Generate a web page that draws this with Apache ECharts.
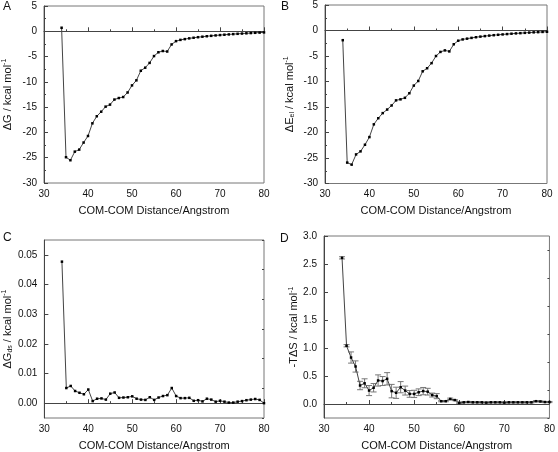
<!DOCTYPE html>
<html><head><meta charset="utf-8">
<script src="https://cdn.jsdelivr.net/npm/echarts@6/dist/echarts.min.js"></script>
<style>html,body{margin:0;padding:0;background:#fff}#c{width:558px;height:452px}</style>
</head><body><div id="c"></div>
<script>
const distance = [34,35,36,37,38,39,40,41,42,43,44,45,46,47,48,49,50,51,52,53,54,55,56,57,58,59,60,61,62,63,64,65,66,67,68,69,70,71,72,73,74,75,76,77,78,79,80];
const dG = [0.7,-24.9,-25.5,-23.8,-23.4,-22.0,-20.7,-18.2,-16.8,-15.9,-14.9,-14.5,-13.5,-13.2,-13.0,-12.1,-10.7,-9.7,-7.8,-7.2,-6.25,-4.9,-4.15,-3.9,-4.0,-2.6,-1.95,-1.7,-1.55,-1.4,-1.28,-1.17,-1.07,-0.98,-0.9,-0.82,-0.75,-0.68,-0.62,-0.56,-0.5,-0.45,-0.4,-0.35,-0.3,-0.26,-0.22];
const dEel = [-1.9,-25.9,-26.3,-24.3,-23.7,-22.4,-20.9,-18.4,-17.2,-16.2,-15.5,-14.7,-13.7,-13.5,-13.2,-12.3,-10.8,-9.9,-8.0,-7.4,-6.4,-5.0,-4.2,-3.9,-4.1,-2.7,-2.0,-1.75,-1.6,-1.45,-1.32,-1.2,-1.1,-1.0,-0.92,-0.84,-0.77,-0.7,-0.63,-0.57,-0.52,-0.46,-0.41,-0.36,-0.32,-0.28,-0.24];
const dGds = [0.0477,0.0051,0.0058,0.0041,0.0035,0.0030,0.0046,0.0007,0.0015,0.0016,0.0012,0.0032,0.0036,0.0018,0.0019,0.0020,0.0023,0.0015,0.0012,0.0011,0.0020,0.0011,0.0019,0.0024,0.0027,0.0051,0.0024,0.0017,0.0017,0.0018,0.0008,0.0010,0.0006,0.0015,0.0012,0.0005,0.0008,0.0005,0.0002,0.0002,0.0005,0.0007,0.0010,0.0012,0.0014,0.0011,0.0000];
const mTdS = [2.61,1.04,0.83,0.67,0.33,0.37,0.24,0.29,0.42,0.41,0.45,0.23,0.20,0.30,0.24,0.18,0.18,0.21,0.23,0.22,0.16,0.14,0.05,0.05,0.09,0.07,0.02,0.03,0.035,0.03,0.03,0.03,0.025,0.03,0.03,0.03,0.025,0.03,0.03,0.03,0.03,0.03,0.03,0.05,0.045,0.035,0.035];
const mTdSErr = [0.02,0.02,0.1,0.1,0.075,0.08,0.09,0.075,0.1,0.08,0.11,0.12,0.1,0.1,0.08,0.06,0.065,0.06,0.065,0.06,0.035,0.045,0.01,0.01,0.015,0.01,0.01,0.01,0.01,0.01,0.01,0.01,0.01,0.01,0.01,0.01,0.01,0.01,0.01,0.01,0.01,0.01,0.01,0.01,0.01,0.01,0.01];
const xTicks = [30,40,50,60,70,80];
const cLabels = [0,0.01,0.02,0.03,0.04,0.05];
const cMinor = [-0.005,0.005,0.015,0.025,0.035,0.045,0.055];
const dLabels = [0,0.5,1.0,1.5,2.0,2.5,3.0];
const dMinor = [-0.25,0.25,0.75,1.25,1.75,2.25,2.75];

const FONT = 'Liberation Sans, Arial, sans-serif';
const TXT = '#111';
const grids = [
  {left:44, top:6, width:220, height:177},
  {left:325, top:4.5, width:222, height:179},
  {left:44, top:240, width:220, height:178},
  {left:324, top:236, width:228, height:182}
].map(g => Object.assign({show:true, borderColor:'#777', borderWidth:1, backgroundColor:'transparent'}, g));

const axisLine = {show:true, lineStyle:{color:'#444', width:1}};
function xAxis(i){
  return {type:'value', gridIndex:i, min:30, max:80, interval:10,
    axisLine, axisTick:{inside:true, length:4, lineStyle:{color:'#444'}},
    minorTick:{show:true, splitNumber:2, length:2, lineStyle:{color:'#444'}},
    splitLine:{show:false},
    axisLabel:{color:TXT, fontSize:10, fontFamily:FONT, margin:6},
    name:'COM-COM Distance/Angstrom', nameLocation:'middle', nameGap:22,
    nameTextStyle:{color:TXT, fontSize:11, fontFamily:FONT}};
}
function richName(){
  return {color:TXT, fontFamily:FONT, fontSize:11,
    rich:{a:{fontSize:11, fontFamily:FONT, color:TXT, lineHeight:13},
          sup:{fontSize:7, fontFamily:FONT, color:TXT, verticalAlign:'top', lineHeight:13},
          sub:{fontSize:7, fontFamily:FONT, color:TXT, verticalAlign:'bottom', lineHeight:13}}};
}
const yBase = (i, extra) => Object.assign({type:'value', gridIndex:i, axisLine,
  axisTick:{inside:true, length:4, lineStyle:{color:'#444'}},
  splitLine:{show:false},
  axisLabel:{color:TXT, fontSize:10, fontFamily:FONT, margin:7},
  nameLocation:'middle', nameRotate:90, nameTextStyle:richName()}, extra);

const yAxes = [
  yBase(0, {min:-30, max:5, interval:5, minorTick:{show:true, splitNumber:2, length:2, lineStyle:{color:'#444'}},
    name:'{a|\u0394G / kcal mol}{sup|-1}', nameGap:30}),
  yBase(1, {min:-30, max:5, interval:5, minorTick:{show:true, splitNumber:2, length:2, lineStyle:{color:'#444'}},
    name:'{a|\u0394E}{sub|el}{a| / kcal mol}{sup|-1}', nameGap:29}),
  yBase(2, {min:-0.005, max:0.055,
    axisLabel:{color:TXT, fontSize:10, fontFamily:FONT, margin:7, customValues:cLabels, formatter:v=>v.toFixed(2)},
    axisTick:{inside:true, length:4, customValues:cLabels, lineStyle:{color:'#444'}},
    name:'{a|\u0394G}{sub|ds}{a| / kcal mol}{sup|-1}', nameGap:28}),
  yBase(3, {min:-0.25, max:3.0,
    axisLabel:{color:TXT, fontSize:10, fontFamily:FONT, margin:7, customValues:dLabels, formatter:v=>v.toFixed(1)},
    axisTick:{inside:true, length:4, customValues:dLabels, lineStyle:{color:'#444'}},
    name:'{a|-T\u0394S / kcal mol}{sup|-1}', nameGap:22}),
  {type:'value', gridIndex:2, min:-0.005, max:0.055, axisLine:{show:false}, splitLine:{show:false},
    axisLabel:{show:false}, axisTick:{inside:true, length:2, customValues:cMinor, lineStyle:{color:'#444'}}},
  {type:'value', gridIndex:3, min:-0.25, max:3.0, axisLine:{show:false}, splitLine:{show:false},
    axisLabel:{show:false}, axisTick:{inside:true, length:2, customValues:dMinor, lineStyle:{color:'#444'}}}
];

function lineSeries(i, ys){
  return {type:'line', xAxisIndex:i, yAxisIndex:i, data:distance.map((x,k)=>[x, ys[k]]),
    symbol:'rect', symbolSize:2.5, showSymbol:true, itemStyle:{color:'#000'},
    lineStyle:{color:'#444', width:1}, animation:false, z:3};
}
const errData = distance.map((x,k)=>[x, mTdS[k]-mTdSErr[k], mTdS[k]+mTdSErr[k]]);
const errSeries = {type:'custom', xAxisIndex:3, yAxisIndex:3, data:errData, animation:false, z:2,
  renderItem:function(params, api){
    const x = api.value(0);
    const lo = api.coord([x, api.value(1)]);
    const hi = api.coord([x, api.value(2)]);
    const w = 3;
    const st = {stroke:'#777', lineWidth:1};
    return {type:'group', children:[
      {type:'line', shape:{x1:lo[0], y1:lo[1], x2:hi[0], y2:hi[1]}, style:st},
      {type:'line', shape:{x1:lo[0]-w, y1:lo[1], x2:lo[0]+w, y2:lo[1]}, style:st},
      {type:'line', shape:{x1:hi[0]-w, y1:hi[1], x2:hi[0]+w, y2:hi[1]}, style:st}
    ]};
  }};

const letters = [['A',3,1],['B',281,1],['C',3,232],['D',280,233]].map(([t,x,y])=>({
  type:'text', left:x, top:y, style:{text:t, fill:TXT, font:'12px '+FONT}}));

const chart = echarts.init(document.getElementById('c'), null, {renderer:'canvas'});
chart.setOption({
  animation:false,
  backgroundColor:'#fff',
  grid:grids,
  xAxis:[0,1,2,3].map(xAxis),
  yAxis:yAxes,
  series:[lineSeries(0,dG), lineSeries(1,dEel), lineSeries(2,dGds), errSeries, lineSeries(3,mTdS)],
  graphic:letters
});
</script></body></html>
